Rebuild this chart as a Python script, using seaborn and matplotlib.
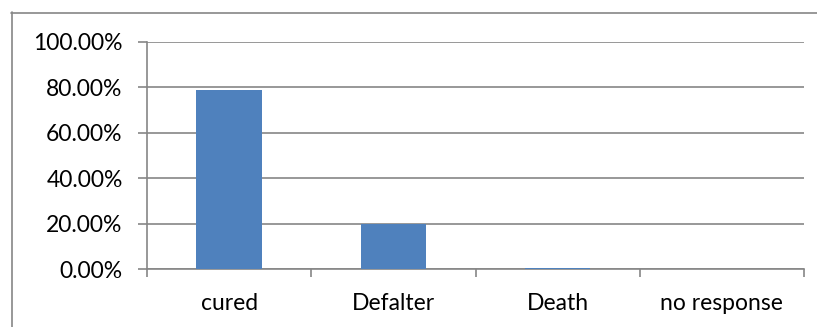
import matplotlib
matplotlib.use("Agg")
import matplotlib.pyplot as plt
from matplotlib.lines import Line2D
from matplotlib.ticker import FuncFormatter, FixedLocator
import seaborn as sns
import pandas as pd

categories = ["cured", "Defalter", "Death", "no response"]
shares = [0.79, 0.20, 0.005, 0.0]

df = pd.DataFrame({"outcome": categories, "share": shares})

sns.set_theme(style="white")
plt.rcParams["font.family"] = ["Lato", "DejaVu Sans"]

fig = plt.figure(figsize=(8.17, 3.27), dpi=100)
ax = fig.add_axes([147 / 817, 1 - 269 / 327, (804 - 147) / 817, (269 - 42) / 327])

sns.barplot(data=df, x="outcome", y="share", color="#4F81BD", width=0.4,
            saturation=1, linewidth=0, ax=ax, zorder=3)

grid_c = "#868686"
ax.set_ylim(0, 1.0)
ax.set_xlim(-0.5, len(categories) - 0.5)
ax.set_yticks([0, 0.2, 0.4, 0.6, 0.8, 1.0])
ax.yaxis.set_major_formatter(FuncFormatter(lambda v, _: f"{v * 100:.2f}%"))
ax.yaxis.grid(True, color=grid_c, linewidth=1.2, zorder=0)
ax.set_axisbelow(True)

# category boundaries carry the tick marks, labels sit at the centres
ax.xaxis.set_major_locator(FixedLocator([i - 0.5 for i in range(len(categories) + 1)]))
ax.xaxis.set_major_formatter(FuncFormatter(lambda v, _: ""))
ax.set_xticks(range(len(categories)), categories, minor=True)

ax.tick_params(axis="x", which="major", direction="out", length=6, width=1.2,
               color=grid_c, bottom=True)
ax.tick_params(axis="x", which="minor", length=0, pad=17, labelsize=16.5,
               labelcolor="#000000")
ax.tick_params(axis="y", direction="out", length=6.5, width=1.2, color=grid_c,
               left=True, pad=11, labelsize=16.5, labelcolor="#000000")

ax.set_xlabel("")
ax.set_ylabel("")
for side in ["top", "right"]:
    ax.spines[side].set_visible(False)
for side in ["left", "bottom"]:
    ax.spines[side].set_color(grid_c)
    ax.spines[side].set_linewidth(1.2)

# chart-area frame along the top and left edges
fw, fh = 817, 327
fig.add_artist(Line2D([11 / fw, 1.0], [1 - 12.5 / fh, 1 - 12.5 / fh],
                      transform=fig.transFigure, color=grid_c, linewidth=1.2))
fig.add_artist(Line2D([11.5 / fw, 11.5 / fw], [0.0, 1 - 12 / fh],
                      transform=fig.transFigure, color=grid_c, linewidth=1.2))

fig.savefig("out.png", dpi=100)
